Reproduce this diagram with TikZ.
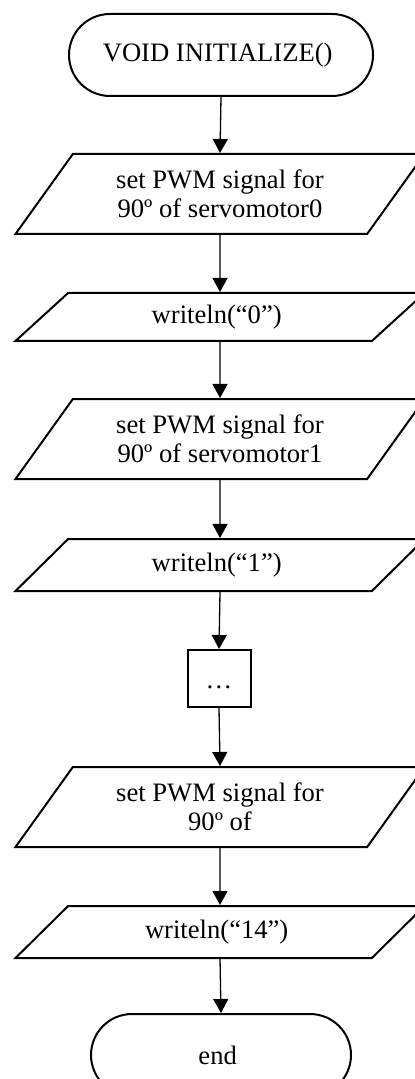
\documentclass[tikz,border=0pt]{standalone}
\usepackage{fontspec}
\setmainfont{Liberation Serif}
\usetikzlibrary{shapes.geometric,shapes.misc,arrows.meta}

\tikzset{
    terminal/.style={rounded rectangle, draw, line width=1pt, align=center,
        minimum height=41pt, inner sep=2pt},
    io/.style={trapezium, trapezium stretches body, draw, line width=1pt, align=center,
        minimum width=204.5pt, inner sep=2pt},
    tallio/.style={io, trapezium left angle=44.3, trapezium right angle=135.7, minimum height=40pt},
    flatio/.style={io, trapezium left angle=31.4, trapezium right angle=148.6, minimum height=25pt},
    stepbox/.style={rectangle, draw, line width=1pt, minimum width=31.5pt, minimum height=28.5pt,
        text height=10pt, text depth=-3pt},
    flow/.style={line width=0.65pt, -{Triangle[width=7.5pt,length=7pt]}}
}

\begin{document}
\begin{tikzpicture}[x=0.5pt, y=-0.5pt, font=\fontsize{13.3pt}{14.5pt}\selectfont]
    \useasboundingbox (0, 0) rectangle (414, 1079);

    \node[terminal, minimum width=156pt] (start) at (221, 55) { VOID INITIALIZE() };
    \node[tallio] (pwmA) at (220, 194) { set PWM signal for\\90º of servomotor0 };
    \node[flatio, minimum height=24pt] (outA) at (220, 317) { writeln(“0”) };
    \node[tallio] (pwmB) at (220, 439) { set PWM signal for\\90º of servomotor1 };
    \node[flatio, minimum height=26pt] (outB) at (220, 565) { writeln(“1”) };
    \node[stepbox] (more) at (219, 678.5) { … };
    \node[tallio] (pwmC) at (220, 807) { set PWM signal for\\90º of };
    \node[flatio, minimum height=26pt] (outC) at (220, 932) { writeln(“14”) };
    \node[terminal, minimum width=134pt] (stop) at (221, 1055) { end };

    \draw[flow] (start.south) -- (pwmA.north);
    \draw[flow] (pwmA.south) -- (outA.north);
    \draw[flow] (outA.south) -- (pwmB.north);
    \draw[flow] (pwmB.south) -- (outB.north);
    \draw[flow] (outB.south) -- (more.north);
    \draw[flow] (more.south) -- (pwmC.north);
    \draw[flow] (pwmC.south) -- (outC.north);
    \draw[flow] (outC.south) -- (stop.north);
\end{tikzpicture}
\end{document}
